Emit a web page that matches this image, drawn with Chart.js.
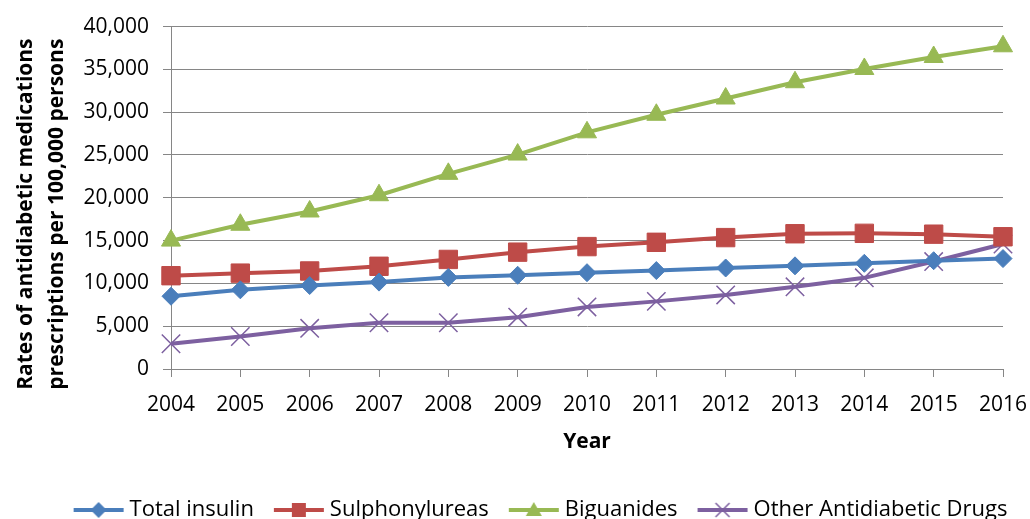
<!DOCTYPE html>
<html>
<head>
<meta charset="utf-8">
<script src="https://cdn.jsdelivr.net/npm/chart.js@4.4.0/dist/chart.umd.min.js"></script>
<style>
  html, body { margin: 0; padding: 0; background: #fff; }
  #wrap { width: 1030px; height: 519px; position: relative; }
</style>
</head>
<body>
<div id="wrap"><canvas id="chart"></canvas></div>
<script>
// data
const years = ['2004', '2005', '2006', '2007', '2008', '2009', '2010', '2011', '2012', '2013', '2014', '2015', '2016'];
const totalInsulin = [8500, 9250, 9750, 10150, 10700, 10950, 11250, 11500, 11800, 12050, 12350, 12650, 12900];
const sulphonylureas = [10900, 11200, 11450, 12000, 12800, 13650, 14300, 14800, 15350, 15800, 15850, 15750, 15450];
const biguanides = [15000, 16850, 18400, 20300, 22800, 25050, 27650, 29700, 31600, 33500, 35050, 36450, 37700];
const otherDrugs = [2950, 3800, 4750, 5400, 5400, 6050, 7250, 7900, 8650, 9600, 10650, 12550, 14600];
const seriesNames = ['Total insulin', 'Sulphonylureas', 'Biguanides', 'Other Antidiabetic Drugs'];

const FONT = "'Open Sans', 'Liberation Sans', sans-serif";
const colors = ['#4A7EBB', '#BE4B48', '#98B954', '#7D60A0'];
const gridColor = '#868686';

// legend icon: short line with the marker in the middle
function legendIcon(color, shape) {
  const c = document.createElement('canvas');
  c.width = 52; c.height = 20;
  const ctx = c.getContext('2d');
  ctx.strokeStyle = color;
  ctx.fillStyle = color;
  ctx.lineWidth = 4;
  ctx.beginPath(); ctx.moveTo(1, 10); ctx.lineTo(51, 10); ctx.stroke();
  const x = 26, y = 10;
  ctx.beginPath();
  if (shape === 'diamond') {
    ctx.moveTo(x - 8, y); ctx.lineTo(x, y - 8); ctx.lineTo(x + 8, y); ctx.lineTo(x, y + 8);
    ctx.closePath(); ctx.fill();
  } else if (shape === 'square') {
    ctx.rect(x - 7, y - 7, 14, 14); ctx.fill();
  } else if (shape === 'triangle') {
    ctx.moveTo(x, y - 8); ctx.lineTo(x + 8, y + 6); ctx.lineTo(x - 8, y + 6);
    ctx.closePath(); ctx.fill();
  } else {
    ctx.lineWidth = 1.5;
    ctx.moveTo(x - 7, y - 7); ctx.lineTo(x + 7, y + 7);
    ctx.moveTo(x + 7, y - 7); ctx.lineTo(x - 7, y + 7);
    ctx.stroke();
  }
  return c;
}
const legendIcons = [
  legendIcon(colors[0], 'diamond'),
  legendIcon(colors[1], 'square'),
  legendIcon(colors[2], 'triangle'),
  legendIcon(colors[3], 'cross')
];

// nudge the legend like in the original
const legendShift = {
  id: 'legendShift',
  afterLayout(chart) {
    const lg = chart.legend;
    lg.left += 28; lg.right += 28;
    lg.top += 12; lg.bottom += 12;
  }
};

function serie(label, data, color, style, radius, border) {
  return {
    label: label,
    data: data,
    borderColor: color,
    backgroundColor: color,
    borderWidth: 4,
    pointStyle: style,
    pointRadius: radius,
    pointBorderWidth: border,
    pointBorderColor: color,
    pointBackgroundColor: color,
    tension: 0
  };
}

new Chart(document.getElementById('chart'), {
  type: 'line',
  data: {
    labels: years,
    datasets: [
      serie(seriesNames[0], totalInsulin, colors[0], 'rectRot', 9, 1),
      serie(seriesNames[1], sulphonylureas, colors[1], 'rect', 13, 1),
      serie(seriesNames[2], biguanides, colors[2], 'triangle', 11, 1),
      serie(seriesNames[3], otherDrugs, colors[3], 'crossRot', 13, 1.5)
    ]
  },
  options: {
    responsive: true,
    maintainAspectRatio: false,
    animation: false,
    layout: { padding: { top: 25, left: 0, right: 0, bottom: 0 } },
    plugins: {
      tooltip: { enabled: false },
      legend: {
        position: 'bottom',
        labels: {
          usePointStyle: true,
          pointStyleWidth: 40,
          boxHeight: 20,
          padding: 25,
          color: '#000',
          font: { family: FONT, size: 22 },
          generateLabels(chart) {
            const items = Chart.defaults.plugins.legend.labels.generateLabels(chart);
            items.forEach((it, i) => { it.pointStyle = legendIcons[i]; });
            return items;
          }
        }
      }
    },
    scales: {
      x: {
        afterFit(scale) {
          scale.height = 93;
          scale.paddingRight = 27;
        },
        grid: { display: true, drawOnChartArea: false, drawTicks: true, tickLength: 8, color: gridColor },
        border: { color: gridColor, width: 1 },
        ticks: { color: '#000', padding: 15, maxRotation: 0, font: { family: FONT, size: 21 } },
        title: {
          display: true,
          text: 'Year',
          color: '#000',
          padding: { top: 4, bottom: 7 },
          font: { family: FONT, size: 21, weight: 'bold' }
        }
      },
      y: {
        min: 0,
        max: 40000,
        afterFit(scale) { scale.width = 171; },
        grid: { color: gridColor, lineWidth: 1, drawTicks: true, tickLength: 8 },
        border: { color: gridColor, width: 1 },
        ticks: {
          stepSize: 5000,
          color: '#000',
          padding: 14,
          font: { family: FONT, size: 21 },
          callback: v => v.toLocaleString('en-US')
        },
        title: {
          display: true,
          // trailing spaces push the rotated text down a little, as in the original
          text: ['Rates of antidiabetic medications      ', 'prescriptions per 100,000 persons      '],
          color: '#000',
          padding: { top: 10, bottom: 0 },
          font: { family: FONT, size: 21, weight: 'bold', lineHeight: 1.5 }
        }
      }
    }
  },
  plugins: [legendShift]
});
</script>
</body>
</html>
